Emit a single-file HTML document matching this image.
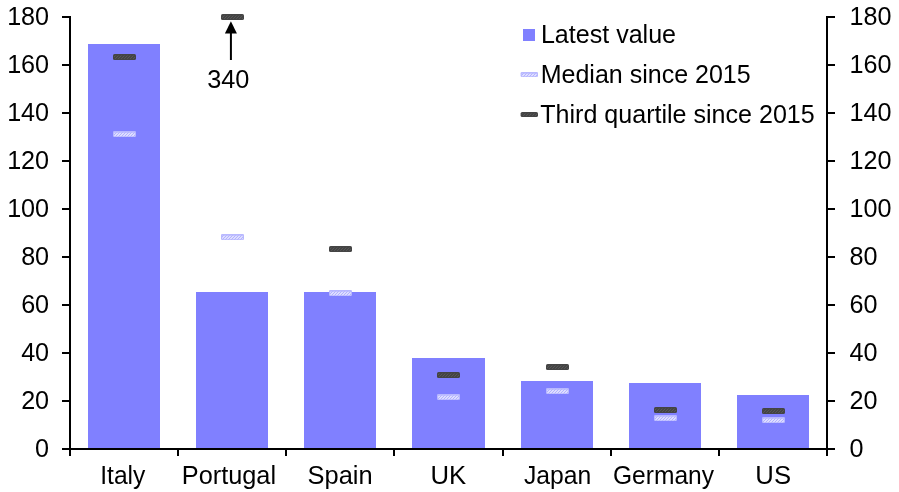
<!DOCTYPE html>
<html lang="en"><head><meta charset="utf-8"><title>Chart</title>
<style>html,body{margin:0;padding:0;background:#fff;}svg{display:block;}text{font-family:"Liberation Sans",Arial,sans-serif;fill:#000;}</style></head><body>
<svg width="899" height="492" viewBox="0 0 899 492">
<defs>
<pattern id="hl" width="3" height="3" patternUnits="userSpaceOnUse"><rect x="-1" y="-1" width="5" height="5" fill="#dedeff"/><path d="M-1,1 L1,-1 M0,3 L3,0 M2,4 L4,2" stroke="#b2b2ff" stroke-width="1"/></pattern>
<pattern id="hd" width="3" height="3" patternUnits="userSpaceOnUse"><path d="M-1,1 L1,-1 M0,3 L3,0 M2,4 L4,2" stroke="#8a8a8a" stroke-width="0.9" stroke-opacity="0.3"/></pattern>
</defs>
<rect width="899" height="492" fill="#fff"/>
<rect x="88" y="44" width="72" height="405.0" fill="#8080ff"/>
<rect x="196" y="292" width="72" height="157.0" fill="#8080ff"/>
<rect x="304" y="292" width="72" height="157.0" fill="#8080ff"/>
<rect x="412" y="358" width="73" height="91.0" fill="#8080ff"/>
<rect x="521" y="381" width="72" height="68.0" fill="#8080ff"/>
<rect x="629" y="383" width="72" height="66.0" fill="#8080ff"/>
<rect x="737" y="395" width="72" height="54.0" fill="#8080ff"/>
<rect x="113.00" y="131.00" width="23" height="6" rx="1.3" fill="#b8b8ff"/>
<rect x="114.20" y="132.70" width="20.6" height="3.6" fill="url(#hl)"/>
<rect x="113.00" y="54.00" width="23" height="6" rx="1.6" fill="#444"/>
<rect x="114.00" y="55.50" width="21" height="3.4" fill="url(#hd)"/>
<rect x="221.00" y="234.00" width="23" height="6" rx="1.3" fill="#b8b8ff"/>
<rect x="222.20" y="235.70" width="20.6" height="3.6" fill="url(#hl)"/>
<rect x="221.00" y="14.00" width="23" height="6" rx="1.6" fill="#444"/>
<rect x="222.00" y="15.50" width="21" height="3.4" fill="url(#hd)"/>
<rect x="329.00" y="290.00" width="23" height="6" rx="1.3" fill="#b8b8ff"/>
<rect x="330.20" y="291.70" width="20.6" height="3.6" fill="url(#hl)"/>
<rect x="329.00" y="246.00" width="23" height="6" rx="1.6" fill="#444"/>
<rect x="330.00" y="247.50" width="21" height="3.4" fill="url(#hd)"/>
<rect x="437.00" y="394.00" width="23" height="6" rx="1.3" fill="#b8b8ff"/>
<rect x="438.20" y="395.70" width="20.6" height="3.6" fill="url(#hl)"/>
<rect x="437.00" y="372.00" width="23" height="6" rx="1.6" fill="#444"/>
<rect x="438.00" y="373.50" width="21" height="3.4" fill="url(#hd)"/>
<rect x="546.00" y="388.00" width="23" height="6" rx="1.3" fill="#b8b8ff"/>
<rect x="547.20" y="389.70" width="20.6" height="3.6" fill="url(#hl)"/>
<rect x="546.00" y="364.00" width="23" height="6" rx="1.6" fill="#444"/>
<rect x="547.00" y="365.50" width="21" height="3.4" fill="url(#hd)"/>
<rect x="654.00" y="415.00" width="23" height="6" rx="1.3" fill="#b8b8ff"/>
<rect x="655.20" y="416.70" width="20.6" height="3.6" fill="url(#hl)"/>
<rect x="654.00" y="407.00" width="23" height="6" rx="1.6" fill="#444"/>
<rect x="655.00" y="408.50" width="21" height="3.4" fill="url(#hd)"/>
<rect x="762.00" y="417.00" width="23" height="6" rx="1.3" fill="#b8b8ff"/>
<rect x="763.20" y="418.70" width="20.6" height="3.6" fill="url(#hl)"/>
<rect x="762.00" y="408.00" width="23" height="6" rx="1.6" fill="#444"/>
<rect x="763.00" y="409.50" width="21" height="3.4" fill="url(#hd)"/>
<g stroke="#000" stroke-width="2" fill="none">
<path d="M70.0,16 V456"/>
<path d="M827.0,16 V456"/>
<path d="M62,449.0 H835"/>
<path d="M62,17 H70.0"/><path d="M827.0,17 H835"/>
<path d="M62,65 H70.0"/><path d="M827.0,65 H835"/>
<path d="M62,113 H70.0"/><path d="M827.0,113 H835"/>
<path d="M62,161 H70.0"/><path d="M827.0,161 H835"/>
<path d="M62,209 H70.0"/><path d="M827.0,209 H835"/>
<path d="M62,257 H70.0"/><path d="M827.0,257 H835"/>
<path d="M62,305 H70.0"/><path d="M827.0,305 H835"/>
<path d="M62,353 H70.0"/><path d="M827.0,353 H835"/>
<path d="M62,401 H70.0"/><path d="M827.0,401 H835"/>
<path d="M178,449.0 V456"/>
<path d="M286,449.0 V456"/>
<path d="M394,449.0 V456"/>
<path d="M503,449.0 V456"/>
<path d="M611,449.0 V456"/>
<path d="M719,449.0 V456"/>
</g>
<text x="7.14" y="25.00" font-size="25.2" textLength="41.99" lengthAdjust="spacingAndGlyphs">180</text>
<text x="849.45" y="25.00" font-size="25.2" textLength="41.99" lengthAdjust="spacingAndGlyphs">180</text>
<text x="7.14" y="73.00" font-size="25.2" textLength="41.99" lengthAdjust="spacingAndGlyphs">160</text>
<text x="849.45" y="73.00" font-size="25.2" textLength="41.99" lengthAdjust="spacingAndGlyphs">160</text>
<text x="7.14" y="121.00" font-size="25.2" textLength="41.99" lengthAdjust="spacingAndGlyphs">140</text>
<text x="849.45" y="121.00" font-size="25.2" textLength="41.99" lengthAdjust="spacingAndGlyphs">140</text>
<text x="7.14" y="169.00" font-size="25.2" textLength="41.99" lengthAdjust="spacingAndGlyphs">120</text>
<text x="849.45" y="169.00" font-size="25.2" textLength="41.99" lengthAdjust="spacingAndGlyphs">120</text>
<text x="7.14" y="217.00" font-size="25.2" textLength="41.99" lengthAdjust="spacingAndGlyphs">100</text>
<text x="849.45" y="217.00" font-size="25.2" textLength="41.99" lengthAdjust="spacingAndGlyphs">100</text>
<text x="21.13" y="265.00" font-size="25.2" textLength="28.00" lengthAdjust="spacingAndGlyphs">80</text>
<text x="849.45" y="265.00" font-size="25.2" textLength="28.00" lengthAdjust="spacingAndGlyphs">80</text>
<text x="21.13" y="313.00" font-size="25.2" textLength="28.00" lengthAdjust="spacingAndGlyphs">60</text>
<text x="849.45" y="313.00" font-size="25.2" textLength="28.00" lengthAdjust="spacingAndGlyphs">60</text>
<text x="21.13" y="361.00" font-size="25.2" textLength="28.00" lengthAdjust="spacingAndGlyphs">40</text>
<text x="849.45" y="361.00" font-size="25.2" textLength="28.00" lengthAdjust="spacingAndGlyphs">40</text>
<text x="21.13" y="409.00" font-size="25.2" textLength="28.00" lengthAdjust="spacingAndGlyphs">20</text>
<text x="849.45" y="409.00" font-size="25.2" textLength="28.00" lengthAdjust="spacingAndGlyphs">20</text>
<text x="35.11" y="457.00" font-size="25.2" textLength="14.00" lengthAdjust="spacingAndGlyphs">0</text>
<text x="849.45" y="457.00" font-size="25.2" textLength="14.00" lengthAdjust="spacingAndGlyphs">0</text>
<text x="100.28" y="483.70" font-size="25.2" textLength="45.09" lengthAdjust="spacingAndGlyphs">Italy</text>
<text x="181.77" y="483.70" font-size="25.2" textLength="94.25" lengthAdjust="spacingAndGlyphs">Portugal</text>
<text x="307.56" y="483.70" font-size="25.2" textLength="65.02" lengthAdjust="spacingAndGlyphs">Spain</text>
<text x="430.56" y="483.70" font-size="25.2" textLength="35.72" lengthAdjust="spacingAndGlyphs">UK</text>
<text x="523.93" y="483.70" font-size="25.2" textLength="67.38" lengthAdjust="spacingAndGlyphs">Japan</text>
<text x="612.98" y="483.70" font-size="25.2" textLength="101.11" lengthAdjust="spacingAndGlyphs">Germany</text>
<text x="755.36" y="483.70" font-size="25.2" textLength="35.69" lengthAdjust="spacingAndGlyphs">US</text>
<path d="M230.91,60 V30" stroke="#000" stroke-width="2"/>
<path d="M230.91,21.3 L236.91,33.4 L224.91,33.4 Z" fill="#000"/>
<text x="207.19" y="87.80" font-size="25.2" textLength="42.24" lengthAdjust="spacingAndGlyphs">340</text>
<rect x="523" y="29" width="12" height="12" fill="#8080ff"/>
<text x="540.89" y="42.60" font-size="25.2" textLength="135.19" lengthAdjust="spacingAndGlyphs">Latest value</text>
<rect x="520.60" y="72.00" width="17.4" height="5" rx="1.3" fill="#b8b8ff"/>
<rect x="521.80" y="73.70" width="14.999999999999998" height="2.6" fill="url(#hl)"/>
<text x="540.69" y="82.60" font-size="25.2" textLength="209.97" lengthAdjust="spacingAndGlyphs">Median since 2015</text>
<rect x="520.60" y="112.00" width="17.4" height="5" rx="1.6" fill="#444"/>
<rect x="521.60" y="113.50" width="15.399999999999999" height="2.4" fill="url(#hd)"/>
<text x="540.28" y="122.60" font-size="25.2" textLength="274.49" lengthAdjust="spacingAndGlyphs">Third quartile since 2015</text>
</svg></body></html>
